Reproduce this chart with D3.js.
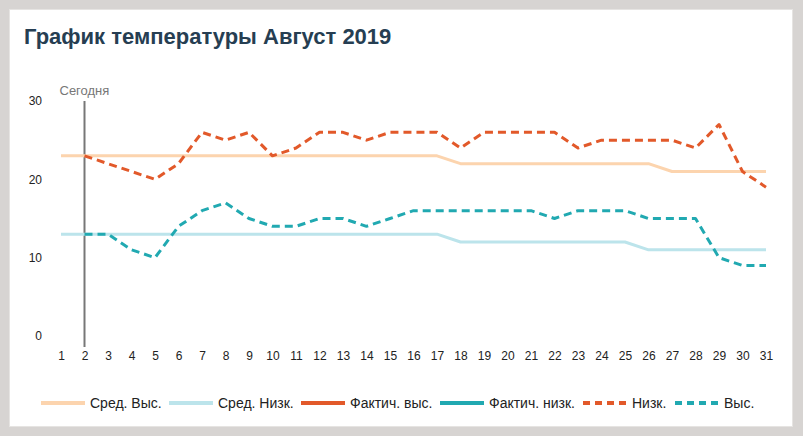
<!DOCTYPE html>
<html><head><meta charset="utf-8">
<script src="https://cdn.jsdelivr.net/npm/d3@7/dist/d3.min.js"></script>
<style>
html,body{margin:0;padding:0;background:#d7d4d2;}
svg{display:block;font-family:"Liberation Sans",Arial,sans-serif;}
</style></head><body>
<svg id="c" width="803" height="436"></svg>
<script>
const days = d3.range(1, 32);
const avgHigh = [23,23,23,23,23,23,23,23,23,23,23,23,23,23,23,23,23,22,22,22,22,22,22,22,22,22,21,21,21,21,21];
const avgLow  = [13,13,13,13,13,13,13,13,13,13,13,13,13,13,13,13,13,12,12,12,12,12,12,12,12,11,11,11,11,11,11];
const actHighDays = d3.range(2, 32);
const actHigh = [23,22,21,20,22,26,25,26,23,24,26,26,25,26,26,26,24,26,26,26,26,24,25,25,25,25,24,27,21,19];
const actLow  = [13,13,11,10,14,16,17,15,14,14,15,15,14,15,16,16,16,16,16,16,15,16,16,16,15,15,15,10,9,9];
const yTicks = [0,10,20,30];
const todayDay = 2;
const title = "График температуры Август 2019";
const todayLabel = "Сегодня";
const legendItems = [
  {label:"Сред. Выс.", color:"#fcd4ae", dash:null, w:4},
  {label:"Сред. Низк.", color:"#bce4eb", dash:null, w:4},
  {label:"Фактич. выс.", color:"#e2592a", dash:null, w:4},
  {label:"Фактич. низк.", color:"#21a9b1", dash:null, w:4},
  {label:"Низк.", color:"#e2592a", dash:"7,5", w:4},
  {label:"Выс.", color:"#21a9b1", dash:"7,5", w:4}
];
const legendX = [41,169,301,440,583,675];

const svg = d3.select("#c");
svg.append("rect").attr("x",9.5).attr("y",9.5).attr("width",783).attr("height",417)
  .attr("fill","#fff").attr("stroke","#e6e4e2");

svg.append("text").attr("x",24).attr("y",44).attr("font-size",22).attr("font-weight","bold")
  .attr("fill","#263e52").text(title);

const x = d3.scaleLinear().domain([1,31]).range([61,766]);
const y = d3.scaleLinear().domain([0,30]).range([336,101]);

// y axis labels
const ya = svg.append("g").attr("transform","translate(42,0)")
  .call(d3.axisLeft(y).tickValues(yTicks).tickSize(0).tickPadding(0));
ya.select(".domain").remove();
ya.selectAll("text").attr("font-size",12).attr("fill","#222").attr("font-family","Liberation Sans, Arial, sans-serif");

// x axis labels
const xa = svg.append("g").attr("transform","translate(0,351)")
  .call(d3.axisBottom(x).tickValues(days).tickFormat(d3.format("d")).tickSize(0).tickPadding(0));
xa.select(".domain").remove();
xa.selectAll("text").attr("font-size",12).attr("fill","#222").attr("font-family","Liberation Sans, Arial, sans-serif");

// today line
svg.append("line").attr("x1",x(todayDay)).attr("x2",x(todayDay)).attr("y1",y(30)).attr("y2",347)
  .attr("stroke","#777").attr("stroke-width",2);
svg.append("text").attr("x",x(todayDay)-25).attr("y",95).attr("font-size",13).attr("fill","#777").text(todayLabel);

const line = d3.line().x(d=>x(d[0])).y(d=>y(d[1]));
function draw(xs, vs, color, dash, w){
  const p = svg.append("path").datum(xs.map((d,i)=>[d,vs[i]]))
    .attr("d",line).attr("fill","none").attr("stroke",color).attr("stroke-width",w)
    .attr("stroke-linejoin","round");
  if(dash) p.attr("stroke-dasharray",dash);
}
draw(days, avgHigh, "#fcd4ae", null, 3);
draw(days, avgLow, "#bce4eb", null, 3);
draw(actHighDays, actHigh, "#e2592a", "8,5", 3);
draw(actHighDays, actLow, "#21a9b1", "8,5", 3);

// legend
const lg = svg.append("g");
legendItems.forEach((it,i)=>{
  const lx = legendX[i];
  const l = lg.append("line").attr("x1",lx).attr("x2",lx+44).attr("y1",403).attr("y2",403)
    .attr("stroke",it.color).attr("stroke-width",it.w);
  if(it.dash) l.attr("stroke-dasharray",it.dash);
  lg.append("text").attr("x",lx+49).attr("y",408).attr("font-size",14).attr("fill","#222").text(it.label);
});
</script>
</body></html>
